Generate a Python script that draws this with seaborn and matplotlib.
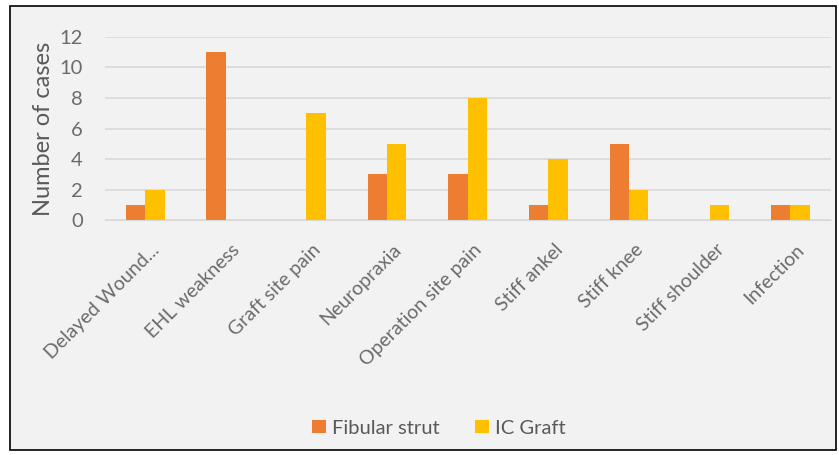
import pandas as pd
import seaborn as sns
import matplotlib.pyplot as plt
import matplotlib.transforms as mtransforms
from matplotlib.patches import Rectangle

# data
complications = ["Delayed Wound...", "EHL weakness", "Graft site pain", "Neuropraxia",
                 "Operation site pain", "Stiff ankel", "Stiff knee", "Stiff shoulder", "Infection"]
fibular_strut = [1, 11, 0, 3, 3, 1, 5, 0, 1]
ic_graft = [2, 0, 7, 5, 8, 4, 2, 1, 1]

df = pd.DataFrame({
    "complication": complications * 2,
    "cases": fibular_strut + ic_graft,
    "group": ["Fibular strut"] * len(complications) + ["IC Graft"] * len(complications),
})

sns.set_style("white")
plt.rcParams['font.family'] = ['Lato', 'DejaVu Sans']

bg = "#f2f2f2"
fig = plt.figure(figsize=(8.39, 4.55), dpi=100, facecolor="white")
ax = fig.add_axes([0.125, 0.516, 0.865, 0.403])
ax.set_facecolor(bg)

# grey panel with black frame behind everything
fig.patches.append(Rectangle((0.012, 0.011), 0.985, 0.976, transform=fig.transFigure,
                             facecolor=bg, edgecolor="black", linewidth=1.2, zorder=-1))

sns.barplot(data=df, x="complication", y="cases", hue="group",
            palette={"Fibular strut": "#ED7D31", "IC Graft": "#FFC000"},
            width=0.48, saturation=1, linewidth=0, ax=ax, legend=True)

ax.set_ylim(0, 12)
ax.set_yticks(range(0, 13, 2))
ax.yaxis.grid(True, color="#d9d9d9", linewidth=1.2)
ax.set_axisbelow(True)
for s in ["top", "right", "left"]:
    ax.spines[s].set_visible(False)
ax.spines["bottom"].set_color("#d9d9d9")
ax.tick_params(axis="both", length=0, colors="#6b6b6b")
ax.tick_params(axis="y", pad=16, labelsize=14.5)
ax.tick_params(axis="x", labelsize=14, pad=4)

# Excel-style rotated labels: end just right of the tick, a little lower
shift = mtransforms.ScaledTranslation(4 / 72, -11 / 72, fig.dpi_scale_trans)
for lbl in ax.get_xticklabels():
    lbl.set_rotation(45)
    lbl.set_ha("right")
    lbl.set_rotation_mode("anchor")
    lbl.set_transform(lbl.get_transform() + shift)

ax.set_xlabel("")
ax.set_ylabel("Number of cases", color="#595959", fontsize=17)
ax.yaxis.set_label_coords(-0.07, 0.5)

handles, labels = ax.get_legend_handles_labels()
ax.legend_.remove()
fig.legend(handles, labels, loc="center", bbox_to_anchor=(0.523, 0.059), ncol=2, frameon=False,
           fontsize=14.5, labelcolor="#595959", handlelength=0.65, handleheight=0.65,
           handletextpad=0.3, columnspacing=1.8)

fig.savefig("out.png", dpi=100, facecolor="white")
